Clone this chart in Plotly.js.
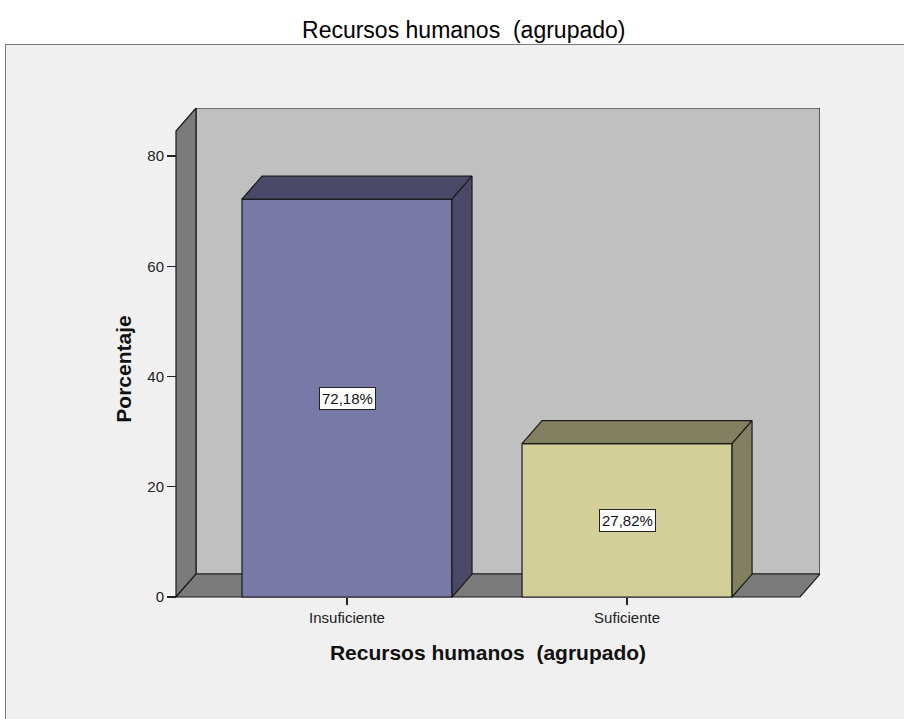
<!DOCTYPE html>
<html>
<head>
<meta charset="utf-8">
<script src="https://cdn.plot.ly/plotly-3.0.1.min.js"></script>
<style>
  html, body { margin:0; padding:0; background:#ffffff; }
  #frame { position:absolute; left:5px; top:44px; width:910px; height:690px; background:#f0f0f0; border:1px solid #7a7a7a; }
  #chart { position:absolute; left:0; top:0; width:904px; height:719px; }
</style>
</head>
<body>
<div id="frame"></div>
<div id="chart"></div>
<script>
// ---- data ----
const categories = ['Insuficiente', 'Suficiente'];
const percentages = [72.18, 27.82];
const valueLabels = ['72,18%', '27,82%'];
const yTickValues = [0, 20, 40, 60, 80];

// ---- styling / geometry (not data) ----
const frontColors = ['#7979a8', '#d3cf98'];
const darkColors = ['#4a4a68', '#828060'];
const BAR_W = 0.75;
const DX = 0.0714;   // depth offset in x units
const DY = 4.17;     // depth offset in y units
const X0 = -0.6107, X1 = 1.689, XMIN = -0.6821;
const YTOP = 88.71, YMIN = -5.986;
const WALL_H = YTOP - DY;
const outline = '#1a1a1a';
const FONT = 'Liberation Sans, Arial, sans-serif';

const xPos = categories.map((c, i) => i);

const traces = [];
traces.push({
  type: 'bar', x: xPos, y: percentages, width: BAR_W,
  marker: { color: frontColors, line: { color: outline, width: 1.2 } },
  hoverinfo: 'skip', showlegend: false
});
percentages.forEach((v, i) => {
  const l = xPos[i] - BAR_W / 2, r = xPos[i] + BAR_W / 2;
  traces.push({
    type: 'scatter', mode: 'lines', fill: 'toself', fillcolor: darkColors[i],
    x: [l, l + DX, r + DX, r, l], y: [v, v + DY, v + DY, v, v],
    line: { color: outline, width: 1.2 }, hoverinfo: 'skip', showlegend: false
  });
  traces.push({
    type: 'scatter', mode: 'lines', fill: 'toself', fillcolor: darkColors[i],
    x: [r, r, r + DX, r + DX, r], y: [0, v, v + DY, DY, 0],
    line: { color: outline, width: 1.2 }, hoverinfo: 'skip', showlegend: false
  });
});

const wallLine = { color: outline, width: 1.2 };
const shapes = [
  { type: 'path', xref: 'x', yref: 'y', layer: 'below',
    path: `M${X0 + DX},${DY} L${X1},${DY} L${X1},${YTOP} L${X0 + DX},${YTOP} Z`,
    fillcolor: '#c0c0c0', line: wallLine },
  { type: 'path', xref: 'x', yref: 'y', layer: 'below',
    path: `M${X0},0 L${X0},${WALL_H} L${X0 + DX},${YTOP} L${X0 + DX},${DY} Z`,
    fillcolor: '#7b7b7b', line: wallLine },
  { type: 'path', xref: 'x', yref: 'y', layer: 'below',
    path: `M${X0},0 L${X0 + DX},${DY} L${X1},${DY} L${X1 - DX},0 Z`,
    fillcolor: '#7b7b7b', line: wallLine }
];

const annotations = percentages.map((v, i) => ({
  x: xPos[i], y: v / 2, xref: 'x', yref: 'y', text: valueLabels[i],
  showarrow: false, bgcolor: '#ffffff', bordercolor: '#222', borderwidth: 1, borderpad: 2,
  font: { family: FONT, size: 15, color: '#111' }
}));

const layout = {
  width: 904, height: 719, autosize: false,
  margin: { l: 156, r: 84, t: 108, b: 89 },
  paper_bgcolor: 'rgba(0,0,0,0)', plot_bgcolor: 'rgba(0,0,0,0)',
  font: { family: FONT, color: '#222' },
  title: { text: 'Recursos humanos \u00a0(agrupado)', xref: 'container', yref: 'container',
    x: 0.513, y: 0.958, xanchor: 'center', yanchor: 'middle',
    font: { family: FONT, size: 23, color: '#000' } },
  xaxis: {
    type: 'linear', range: [XMIN, X1], tickvals: xPos, ticktext: categories,
    anchor: 'free', position: (0 - YMIN) / (YTOP - YMIN),
    showgrid: false, zeroline: false, showline: false,
    ticks: 'outside', ticklen: 7, tickcolor: '#222', tickwidth: 1.2,
    tickfont: { size: 15, color: '#222' }, fixedrange: true,
    title: { text: '<b>Recursos humanos \u00a0(agrupado)</b>', standoff: 20,
      font: { size: 21, color: '#111' } }
  },
  yaxis: {
    range: [YMIN, YTOP], tickvals: yTickValues, ticktext: yTickValues.map(String),
    anchor: 'free', position: (X0 - XMIN) / (X1 - XMIN),
    showgrid: false, zeroline: false, showline: false,
    ticks: 'outside', ticklen: 9, tickcolor: '#222', tickwidth: 1.2,
    tickfont: { size: 15, color: '#222' }, fixedrange: true,
    title: { text: '<b>Porcentaje</b>', standoff: 8, font: { size: 21, color: '#111' } }
  },
  shapes: shapes,
  annotations: annotations,
  showlegend: false,
  bargap: 0
};

Plotly.newPlot('chart', traces, layout, { displayModeBar: false, staticPlot: true });
</script>
</body>
</html>
